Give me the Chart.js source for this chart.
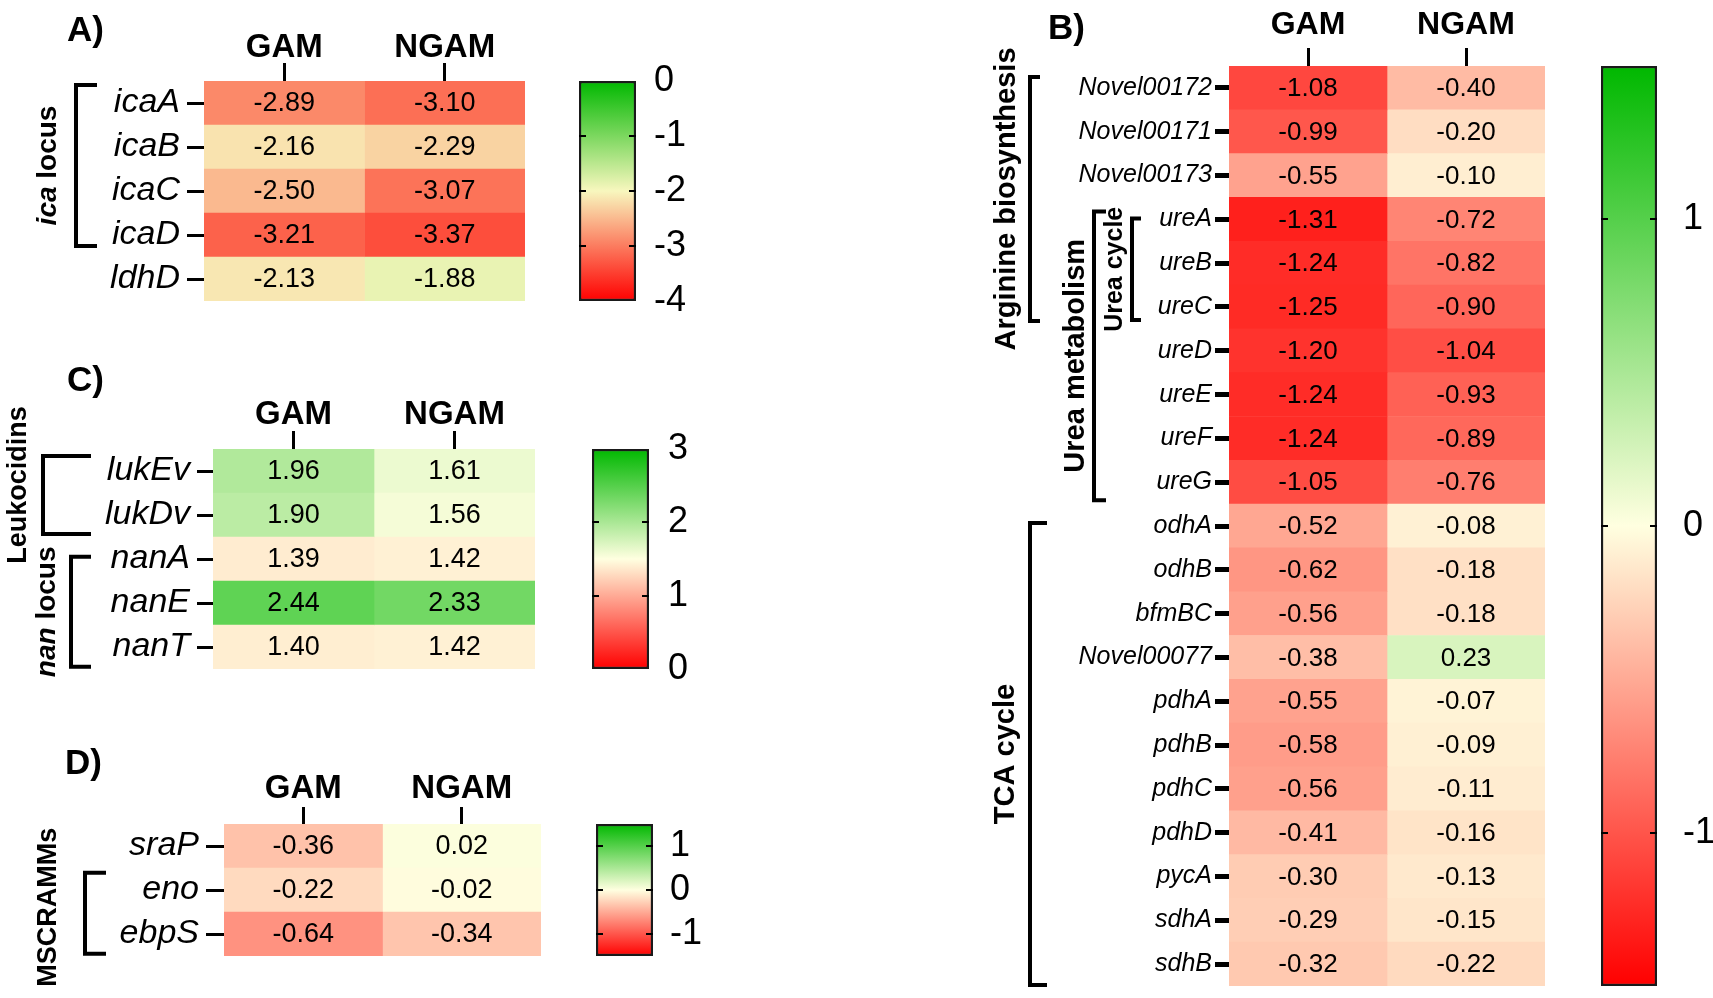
<!DOCTYPE html>
<html><head><meta charset="utf-8">
<script src="https://cdn.jsdelivr.net/npm/chart.js@4.4.1/dist/chart.umd.min.js"></script>
<style>
html,body{margin:0;padding:0;background:#fff;}
#page{position:relative;width:1713px;height:998px;overflow:hidden;background:#fff;}
#page canvas{position:absolute;}
</style></head><body><div id="page"></div>
<script>
// ---------------- data ----------------
const columns = ['GAM', 'NGAM'];

const genesA = ['icaA', 'icaB', 'icaC', 'icaD', 'ldhD'];
const gamA   = [-2.89, -2.16, -2.50, -3.21, -2.13];
const ngamA  = [-3.10, -2.29, -3.07, -3.37, -1.88];
const rangeA = [-4, 0];
const ticksA = [0, -1, -2, -3, -4];

const genesB = ['Novel00172', 'Novel00171', 'Novel00173', 'ureA', 'ureB', 'ureC', 'ureD', 'ureE', 'ureF', 'ureG',
                'odhA', 'odhB', 'bfmBC', 'Novel00077', 'pdhA', 'pdhB', 'pdhC', 'pdhD', 'pycA', 'sdhA', 'sdhB'];
const gamB   = [-1.08, -0.99, -0.55, -1.31, -1.24, -1.25, -1.20, -1.24, -1.24, -1.05,
                -0.52, -0.62, -0.56, -0.38, -0.55, -0.58, -0.56, -0.41, -0.30, -0.29, -0.32];
const ngamB  = [-0.40, -0.20, -0.10, -0.72, -0.82, -0.90, -1.04, -0.93, -0.89, -0.76,
                -0.08, -0.18, -0.18, 0.23, -0.07, -0.09, -0.11, -0.16, -0.13, -0.15, -0.22];
const rangeB = [-1.5, 1.5];
const ticksB = [1, 0, -1];

const genesC = ['lukEv', 'lukDv', 'nanA', 'nanE', 'nanT'];
const gamC   = [1.96, 1.90, 1.39, 2.44, 1.40];
const ngamC  = [1.61, 1.56, 1.42, 2.33, 1.42];
const rangeC = [0, 3];
const ticksC = [3, 2, 1, 0];

const genesD = ['sraP', 'eno', 'ebpS'];
const gamD   = [-0.36, -0.22, -0.64];
const ngamD  = [0.02, -0.02, -0.34];
const rangeD = [-1.5, 1.5];
const ticksD = [1, 0, -1];

// group annotations (text parts, first/last gene)
const groupsA = [{parts: [['ica', 'italic bold'], [' locus', 'bold']], from: 'icaA', to: 'icaD'}];
const groupsB = [
  {parts: [['Arginine biosynthesis', 'bold']], from: 'Novel00172', to: 'ureC'},
  {parts: [['Urea metabolism', 'bold']], from: 'ureA', to: 'ureG'},
  {parts: [['Urea cycle', 'bold']], from: 'ureA', to: 'ureC'},
  {parts: [['TCA cycle', 'bold']], from: 'odhA', to: 'sdhB'}
];
const groupsC = [
  {parts: [['Leukocidins', 'bold']], from: 'lukEv', to: 'lukDv'},
  {parts: [['nan', 'italic bold'], [' locus', 'bold']], from: 'nanA', to: 'nanT'}
];
const groupsD = [{parts: [['MSCRAMMs', 'bold']], from: 'eno', to: 'ebpS'}];

// ---------------- styling / layout ----------------
const FONT = "'Liberation Sans', Arial, Helvetica, sans-serif";
Chart.defaults.font.family = FONT;
Chart.defaults.animation = false;
Chart.defaults.color = '#000';
const RED = [255, 0, 0], GREEN = [0, 184, 0];
const MID_A = [248, 247, 190], MID = [255, 255, 224];
const rgb = c => `rgb(${c.map(Math.round).join(',')})`;
function colorFor(v, range, mid3) {
  const mid = (range[0] + range[1]) / 2, half = (range[1] - range[0]) / 2;
  let t = Math.max(-1, Math.min(1, (v - mid) / half));
  const end = t < 0 ? RED : GREEN; t = Math.abs(t);
  return rgb(mid3.map((m, k) => m + (end[k] - m) * t));
}
const page = document.getElementById('page');
function mkCanvas(x, y, w, h) {
  const cv = document.createElement('canvas');
  cv.width = w; cv.height = h;
  cv.style.left = x + 'px'; cv.style.top = y + 'px';
  cv.style.width = w + 'px'; cv.style.height = h + 'px';
  page.appendChild(cv);
  return cv;
}
function drawRot(ctx, parts, size, cx, cy) {
  ctx.save(); ctx.translate(cx, cy); ctx.rotate(-Math.PI / 2);
  ctx.textBaseline = 'middle'; ctx.textAlign = 'left'; ctx.fillStyle = '#000';
  let total = 0;
  parts.forEach(p => { ctx.font = `${p[1]} ${size}px ${FONT}`; total += ctx.measureText(p[0]).width; });
  let x = -total / 2;
  parts.forEach(p => { ctx.font = `${p[1]} ${size}px ${FONT}`; ctx.fillText(p[0], x, 0); x += ctx.measureText(p[0]).width; });
  ctx.restore();
}

function heatmap(o) {
  const cv = mkCanvas(o.x, o.y, o.w, o.h);
  const a = {l: o.area.l - o.x, t: o.area.t - o.y, r: o.area.r - o.x, b: o.area.b - o.y};
  const cellText = {id: 'cellText', afterDatasetsDraw(chart) {
    const ctx = chart.ctx; ctx.save();
    ctx.font = `${o.valSize}px ${FONT}`; ctx.fillStyle = '#000';
    ctx.textAlign = 'center'; ctx.textBaseline = 'middle';
    o.values.forEach((vals, c) => {
      chart.getDatasetMeta(c).data.forEach((bar, i) => {
        const p = bar.getProps(['x', 'y', 'base'], true);
        ctx.fillText(vals[i].toFixed(2), (p.x + p.base) / 2, p.y + 1);
      });
    });
    ctx.restore();
  }};
  const annot = {id: 'annot', afterDraw(chart) {
    const ctx = chart.ctx, ys = chart.scales.y; ctx.save();
    ctx.fillStyle = '#000'; ctx.font = `bold 35px ${FONT}`;
    ctx.textAlign = 'left'; ctx.textBaseline = 'middle';
    ctx.fillText(o.letter, o.letterPos[0] - o.x, o.letterPos[1] - o.y);
    const rowH = ys.getPixelForValue(1) - ys.getPixelForValue(0);
    o.groups.forEach((g, k) => {
      const s = o.groupStyle[k];
      const y0 = ys.getPixelForValue(o.genes.indexOf(g.from)) + s.d0 * rowH;
      const y1 = ys.getPixelForValue(o.genes.indexOf(g.to)) + s.d1 * rowH;
      const bx = s.bx - o.x, arm = s.arm - o.x;
      ctx.lineWidth = 4; ctx.strokeStyle = '#000'; ctx.lineJoin = 'miter'; ctx.lineCap = 'butt';
      ctx.beginPath(); ctx.moveTo(arm, y0); ctx.lineTo(bx, y0); ctx.lineTo(bx, y1); ctx.lineTo(arm, y1); ctx.stroke();
      drawRot(ctx, g.parts, s.size, s.tx - o.x, (y0 + y1) / 2 + (s.dy || 0));
    });
    ctx.restore();
  }};
  new Chart(cv, {
    type: 'bar',
    data: {
      labels: o.genes,
      datasets: o.values.map((vals, c) => ({
        label: columns[c],
        data: o.genes.map(() => [c, c + 1]),
        backgroundColor: ctx => colorFor(vals[ctx.dataIndex], o.range, o.mid),
        borderWidth: 0, barPercentage: 1, categoryPercentage: 1, grouped: false
      }))
    },
    options: {
      indexAxis: 'y', responsive: false, animation: false, events: [],
      layout: {padding: {left: 0, top: 0, right: o.w - a.r, bottom: o.h - a.b}},
      plugins: {legend: {display: false}, tooltip: {enabled: false}, title: {display: false}},
      scales: {
        x: {
          type: 'linear', position: 'top', min: 0, max: 2,
          afterBuildTicks: ax => { ax.ticks = columns.map((_, i) => ({value: i + 0.5})); },
          afterFit: s => { s.height = a.t; s.paddingLeft = 0; s.paddingRight = 0; },
          ticks: {callback: (v, i) => columns[i], font: {size: o.headSize, weight: 'bold'}, color: '#000',
                  padding: o.headPad, autoSkip: false, maxRotation: 0},
          grid: {drawOnChartArea: false, drawTicks: true, tickLength: o.headTick, tickWidth: 3, tickColor: '#000'},
          border: {display: false}
        },
        y: {
          type: 'category', position: 'left', offset: true,
          afterFit: s => { s.width = a.l; s.paddingTop = 0; s.paddingBottom = 0; },
          ticks: {font: {size: o.labelSize, style: 'italic'}, color: '#000', padding: o.labelPad, autoSkip: false},
          grid: {offset: false, drawOnChartArea: false, drawTicks: true, tickLength: o.tickLen, tickWidth: o.tickW, tickColor: '#000'},
          border: {display: false}
        }
      }
    },
    plugins: [cellText, annot]
  });
}

function colorbar(o) {
  const padV = 28, labW = 62;
  const cv = mkCanvas(o.x, o.y - padV, o.w + labW, o.h + 2 * padV);
  const marks = {id: 'marks', afterDatasetsDraw(chart) {
    const ctx = chart.ctx, ys = chart.scales.y, ca = chart.chartArea; ctx.save();
    ctx.strokeStyle = '#000'; ctx.lineWidth = 2;
    o.ticks.forEach(v => {
      if (v <= o.range[0] || v >= o.range[1]) return;
      const y = Math.round(ys.getPixelForValue(v));
      ctx.beginPath(); ctx.moveTo(ca.left, y); ctx.lineTo(ca.left + 7, y);
      ctx.moveTo(ca.right - 7, y); ctx.lineTo(ca.right, y); ctx.stroke();
    });
    ctx.restore();
  }};
  new Chart(cv, {
    type: 'bar',
    data: {labels: [''], datasets: [{
      data: [o.range],
      backgroundColor: ctx => {
        const ca = ctx.chart.chartArea; if (!ca) return '#fff';
        const g = ctx.chart.ctx.createLinearGradient(0, ca.bottom, 0, ca.top);
        g.addColorStop(0, rgb(RED)); g.addColorStop(0.5, rgb(o.mid)); g.addColorStop(1, rgb(GREEN));
        return g;
      },
      borderColor: '#1a1a1a', borderWidth: 2.5, borderSkipped: false,
      barPercentage: 1, categoryPercentage: 1
    }]},
    options: {
      responsive: false, animation: false, events: [],
      layout: {padding: {top: padV, bottom: padV, left: 0, right: 0}},
      plugins: {legend: {display: false}, tooltip: {enabled: false}},
      scales: {
        x: {display: false},
        y: {
          type: 'linear', position: 'right', min: o.range[0], max: o.range[1],
          afterBuildTicks: ax => { ax.ticks = o.ticks.map(v => ({value: v})); },
          afterFit: s => { s.width = labW; s.paddingTop = 0; s.paddingBottom = 0; },
          ticks: {font: {size: 36}, color: '#000', padding: o.labelPad, callback: v => String(v)},
          grid: {display: false}, border: {display: false}
        }
      }
    },
    plugins: [marks]
  });
}

// ---------------- panels ----------------
heatmap({
  x: 0, y: 0, w: 545, h: 330, area: {l: 204, t: 81, r: 525, b: 301},
  genes: genesA, values: [gamA, ngamA], range: rangeA, mid: MID_A,
  letter: 'A)', letterPos: [67, 31],
  headSize: 33, headPad: -5, headTick: 18, labelSize: 34, labelPad: 7, tickLen: 17, tickW: 3, valSize: 27,
  groups: groupsA, groupStyle: [{d0: -0.41, d1: 0.25, bx: 76, arm: 97, tx: 48, size: 28}]
});
colorbar({x: 579, y: 81, w: 57, h: 220, range: rangeA, ticks: ticksA, labelPad: 10, mid: MID_A});

heatmap({
  x: 960, y: 0, w: 600, h: 998, area: {l: 1229, t: 66, r: 1545, b: 986},
  genes: genesB, values: [gamB, ngamB], range: rangeB, mid: MID,
  letter: 'B)', letterPos: [1048, 29],
  headSize: 32, headPad: 4, headTick: 18, labelSize: 25, labelPad: 3, tickLen: 14, tickW: 5, valSize: 26,
  groups: groupsB, groupStyle: [
    {d0: -0.25, d1: 0.32, bx: 1030, arm: 1040, tx: 1007, size: 29},
    {d0: -0.18, d1: 0.41, bx: 1094, arm: 1106, tx: 1076, size: 29},
    {d0: -0.02, d1: 0.30, bx: 1132, arm: 1141, tx: 1115, size: 25},
    {d0: -0.07, d1: 0.48, bx: 1030, arm: 1047, tx: 1006, size: 29}
  ]
});
colorbar({x: 1601, y: 66, w: 56, h: 920, range: rangeB, ticks: ticksB, labelPad: 18, mid: MID});

heatmap({
  x: 0, y: 340, w: 545, h: 345, area: {l: 213, t: 449, r: 535, b: 669},
  genes: genesC, values: [gamC, ngamC], range: rangeC, mid: MID,
  letter: 'C)', letterPos: [67, 381],
  headSize: 33, headPad: -4, headTick: 18, labelSize: 34, labelPad: 7, tickLen: 16, tickW: 3, valSize: 27,
  groups: groupsC, groupStyle: [
    {d0: -0.34, d1: 0.43, bx: 43, arm: 91, tx: 19, size: 27, dy: -10},
    {d0: -0.05, d1: 0.45, bx: 71, arm: 91, tx: 47, size: 28}
  ]
});
colorbar({x: 592, y: 449, w: 57, h: 220, range: rangeC, ticks: ticksC, labelPad: 11, mid: MID});

heatmap({
  x: 0, y: 700, w: 560, h: 298, area: {l: 224, t: 824, r: 541, b: 956},
  genes: genesD, values: [gamD, ngamD], range: rangeD, mid: MID,
  letter: 'D)', letterPos: [65, 764],
  headSize: 33, headPad: -2, headTick: 17, labelSize: 34, labelPad: 7, tickLen: 18, tickW: 3, valSize: 27,
  groups: groupsD, groupStyle: [{d0: -0.39, d1: 0.45, bx: 85, arm: 106, tx: 49, size: 27, dy: -6}]
});
colorbar({x: 596, y: 824, w: 57, h: 132, range: rangeD, ticks: ticksD, labelPad: 9, mid: MID});
</script>
</body></html>
